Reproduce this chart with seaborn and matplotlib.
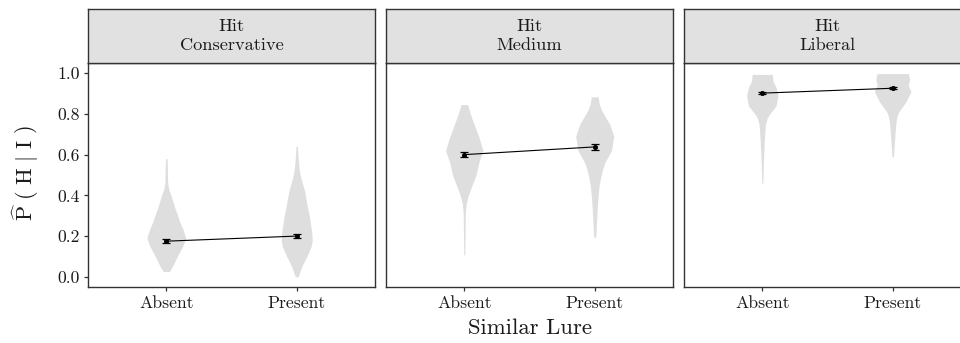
import numpy as np
import pandas as pd
import matplotlib
matplotlib.use("Agg")
import matplotlib.pyplot as plt
import seaborn as sns

# ---------------- data ----------------
strip_row1 = "Hit"
panels = ["Conservative", "Medium", "Liberal"]
lure_levels = ["Absent", "Present"]
y_ticks = [0.0, 0.2, 0.4, 0.6, 0.8, 1.0]
y_tick_labels = ["0.0", "0.2", "0.4", "0.6", "0.8", "1.0"]

mean_conservative = [0.175, 0.200]
mean_medium = [0.600, 0.638]
mean_liberal = [0.902, 0.926]
se_conservative = [0.010, 0.010]
se_medium = [0.012, 0.013]
se_liberal = [0.006, 0.005]

# violin outlines: y values and half widths (in x-category units)
vy_cons_abs = [0.026, 0.05, 0.10, 0.15, 0.19, 0.23, 0.27, 0.30, 0.34, 0.38, 0.41, 0.43, 0.46, 0.50, 0.54, 0.58]
vw_cons_abs = [0.023, 0.046, 0.084, 0.126, 0.149, 0.130, 0.103, 0.088, 0.065, 0.046, 0.031, 0.019, 0.011, 0.009, 0.008, 0.006]
vy_cons_pre = [0.0, 0.05, 0.10, 0.15, 0.18, 0.22, 0.30, 0.36, 0.42, 0.47, 0.51, 0.55, 0.60, 0.64]
vw_cons_pre = [0.011, 0.038, 0.077, 0.111, 0.119, 0.115, 0.096, 0.077, 0.061, 0.038, 0.023, 0.015, 0.009, 0.006]
vy_med_abs = [0.108, 0.20, 0.30, 0.32, 0.36, 0.40, 0.44, 0.50, 0.565, 0.62, 0.68, 0.72, 0.76, 0.80, 0.846]
vw_med_abs = [0.004, 0.006, 0.008, 0.009, 0.015, 0.031, 0.054, 0.090, 0.113, 0.143, 0.115, 0.092, 0.069, 0.046, 0.025]
vy_med_pre = [0.195, 0.26, 0.33, 0.39, 0.45, 0.49, 0.53, 0.56, 0.62, 0.69, 0.75, 0.79, 0.82, 0.85, 0.884]
vw_med_pre = [0.008, 0.013, 0.019, 0.025, 0.034, 0.046, 0.061, 0.077, 0.128, 0.146, 0.115, 0.077, 0.051, 0.034, 0.027]
vy_lib_abs = [0.459, 0.55, 0.66, 0.72, 0.75, 0.78, 0.80, 0.84, 0.89, 0.93, 0.96, 0.994]
vw_lib_abs = [0.004, 0.008, 0.015, 0.021, 0.025, 0.038, 0.057, 0.106, 0.120, 0.106, 0.083, 0.077]
vy_lib_pre = [0.59, 0.68, 0.73, 0.76, 0.79, 0.81, 0.86, 0.91, 0.94, 0.97, 0.998]
vw_lib_pre = [0.006, 0.015, 0.021, 0.025, 0.034, 0.046, 0.102, 0.140, 0.119, 0.130, 0.119]

means = {"Conservative": mean_conservative, "Medium": mean_medium, "Liberal": mean_liberal}
ses = {"Conservative": se_conservative, "Medium": se_medium, "Liberal": se_liberal}
violins = {
    "Conservative": [(vy_cons_abs, vw_cons_abs), (vy_cons_pre, vw_cons_pre)],
    "Medium": [(vy_med_abs, vw_med_abs), (vy_med_pre, vw_med_pre)],
    "Liberal": [(vy_lib_abs, vw_lib_abs), (vy_lib_pre, vw_lib_pre)],
}

# ---------------- style ----------------
sns.set_theme(style="white")
plt.rcParams["font.family"] = ["cmr10", "DejaVu Serif"]
plt.rcParams["mathtext.fontset"] = "cm"
plt.rcParams["axes.formatter.use_mathtext"] = True

BORDER = "#333333"
TEXT = "#1a1a1a"
VIOLIN = "#dedede"
STRIP = "#e1e1e1"

W, H = 960, 343
fig = plt.figure(figsize=(W / 100, H / 100), dpi=100)

panel_lefts = [88, 386, 684]
panel_w = 287
panel_top, panel_bot = 63, 287
strip_top = 9

for i, name in enumerate(panels):
    left = panel_lefts[i] / W
    ax = fig.add_axes([left, (H - panel_bot) / H, panel_w / W, (panel_bot - panel_top) / H])
    sax = fig.add_axes([left, (H - panel_top) / H, panel_w / W, (panel_top - strip_top) / H])

    # violins
    for j, (vy, vw) in enumerate(violins[name]):
        vy = np.asarray(vy)
        vw = np.asarray(vw)
        ax.fill_betweenx(vy, j - vw, j + vw, color=VIOLIN, linewidth=0, zorder=1)

    df = pd.DataFrame({"lure": lure_levels, "mean": means[name], "se": ses[name]})
    sns.pointplot(data=df, x="lure", y="mean", order=lure_levels, errorbar=None,
                  color="black", markers="o", markersize=3.0, linewidth=0.8, ax=ax, zorder=3)
    ax.errorbar(x=np.arange(len(lure_levels)), y=df["mean"], yerr=df["se"], fmt="none",
                ecolor="black", elinewidth=0.9, capsize=2.6, capthick=0.9, zorder=4)

    ax.set_xlim(-0.6, 1.6)
    ax.set_ylim(-0.05, 1.05)
    ax.set_xlabel("")
    ax.set_ylabel("")
    ax.set_xticks([0, 1])
    ax.set_xticklabels(lure_levels)
    ax.set_yticks(y_ticks)
    if i == 0:
        ax.set_yticklabels(y_tick_labels)
        ax.tick_params(axis="y", left=True, length=3, width=0.9, color=BORDER,
                       labelsize=12.7, labelcolor=TEXT, pad=3)
    else:
        ax.tick_params(axis="y", left=False, labelleft=False)
    ax.tick_params(axis="x", bottom=True, length=3, width=0.9, color=BORDER,
                   labelsize=12.7, labelcolor=TEXT, pad=3.5)
    for sp in ax.spines.values():
        sp.set_visible(True)
        sp.set_color(BORDER)
        sp.set_linewidth(1.0)
    ax.grid(False)
    ax.set_facecolor("white")

    sax.set_facecolor(STRIP)
    sax.set_xticks([])
    sax.set_yticks([])
    for sp in sax.spines.values():
        sp.set_visible(True)
        sp.set_color(BORDER)
        sp.set_linewidth(1.0)
    sax.text(0.5, 0.5, strip_row1 + "\n" + name, ha="center", va="center",
             fontsize=13.2, color=TEXT, linespacing=1.3, transform=sax.transAxes)

fig.text((88 + 684 + panel_w) / 2 / W, (H - 328) / H, "Similar Lure", ha="center", va="center",
         fontsize=16.4, color=TEXT)
fig.text(26 / W, (H - 173) / H, r"$\widehat{\mathrm{P}}\ (\ \mathrm{H}\ |\ \mathrm{I}\ )$",
         rotation=90, ha="center", va="center", fontsize=16, color=TEXT)

fig.savefig("out.png", dpi=100)
